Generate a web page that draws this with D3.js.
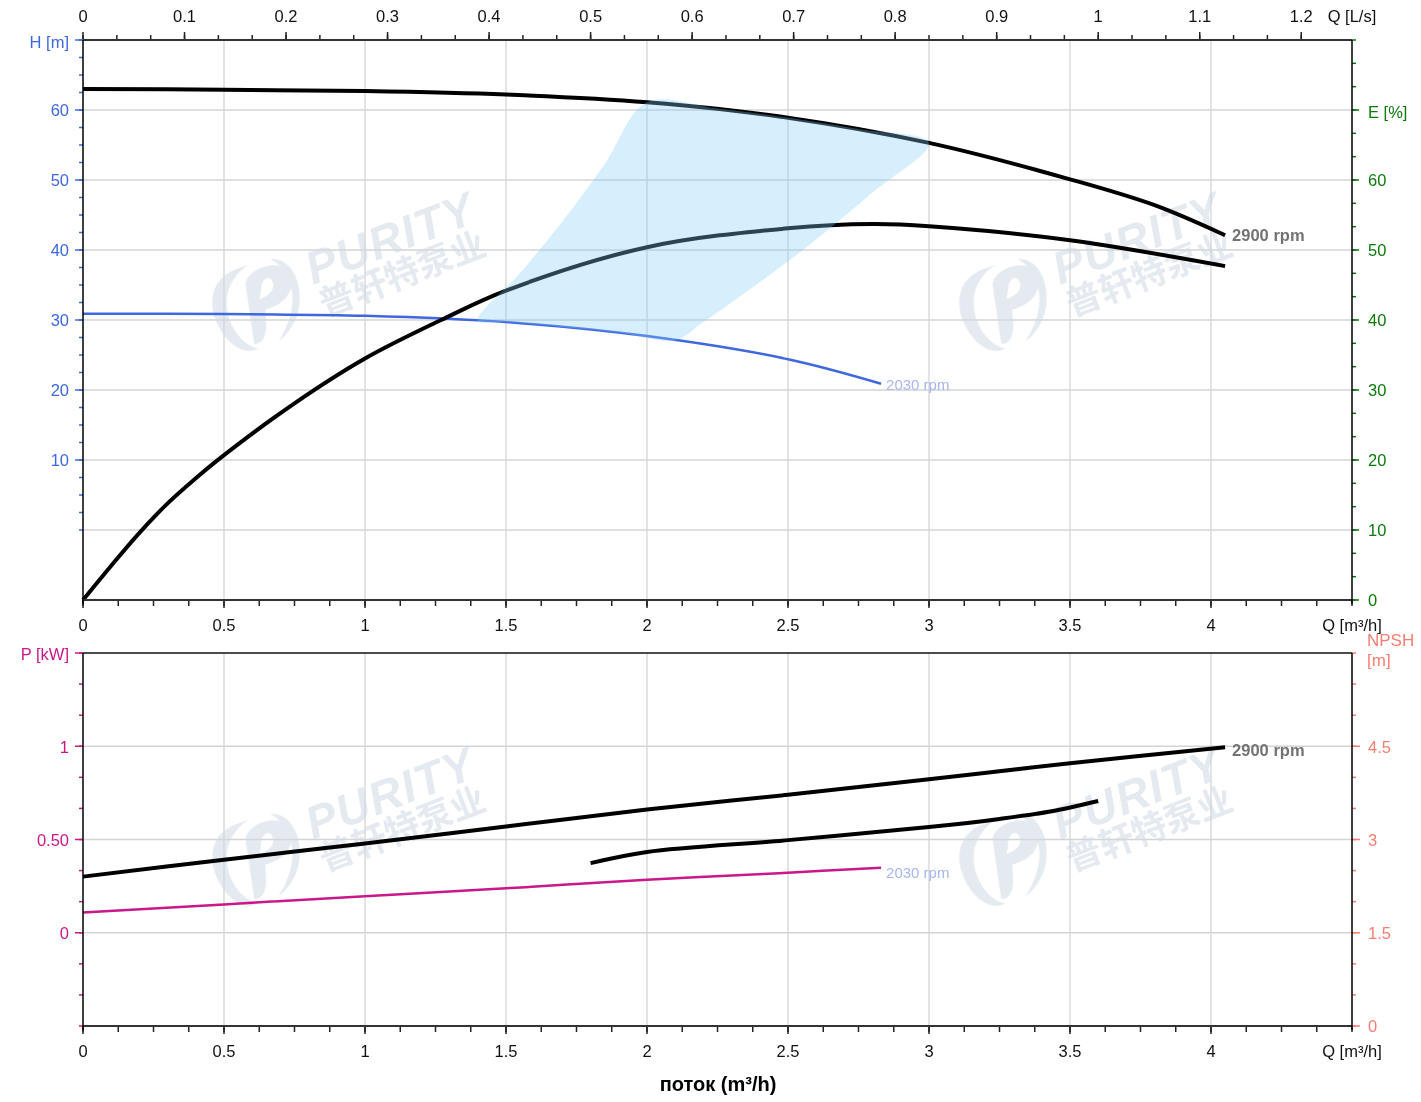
<!DOCTYPE html>
<html><head><meta charset="utf-8">
<script src="https://cdn.jsdelivr.net/npm/d3@7"></script>
<style>body{margin:0;background:#fff}svg{display:block;font-family:"Liberation Sans",Arial,sans-serif}</style>
</head><body>
<script>
// ---------- data ----------
const head2900Q = [0, 0.5, 1, 1.5, 2, 2.5, 3, 3.5, 3.8, 4.05];
const head2900H = [63.0, 62.9, 62.7, 62.2, 61.1, 58.9, 55.3, 50.1, 46.4, 42.1];
const head2030Q = [0, 0.5, 1, 1.5, 2, 2.5, 2.83];
const head2030H = [30.9, 30.85, 30.6, 29.7, 27.7, 24.4, 20.9];
const eff2900Q = [0, 0.1, 0.2, 0.3, 0.4, 0.5, 0.75, 1, 1.27, 1.5, 2, 2.5, 2.8, 3, 3.5, 4.05];
const eff2900E = [0, 4.9, 9.6, 13.8, 17.4, 20.7, 28.1, 34.5, 40.0, 44.2, 50.4, 53.1, 53.7, 53.4, 51.4, 47.7];
const pow2900Q = [0, 0.5, 1, 1.5, 2, 2.5, 3, 3.5, 4.05];
const pow2900P = [0.301, 0.392, 0.478, 0.570, 0.661, 0.740, 0.823, 0.909, 0.995];
const pow2030Q = [0, 0.5, 1, 1.5, 2, 2.5, 2.83];
const pow2030P = [0.108, 0.152, 0.196, 0.238, 0.284, 0.322, 0.349];
const npshQ = [1.8, 2.0, 2.5, 3.0, 3.25, 3.43, 3.6];
const npshM = [2.62, 2.80, 2.99, 3.20, 3.33, 3.45, 3.62];
// best-efficiency zone (outline, Q m3/h / H m)
const zoneQ = [2.0, 2.25, 2.5, 2.75, 3.0, 2.8, 2.6, 2.4, 2.2, 2.1, 1.9, 1.7, 1.5, 1.4, 1.55, 1.7, 1.85, 2.0];
const zoneH = [61.1, 60.2, 58.9, 57.3, 55.3, 48.2, 41.5, 35.4, 29.7, 27.1, 28.2, 29.0, 29.7, 29.9, 36.7, 44.1, 52.3, 61.1];
// ticks / labels
const qTicks = [0, 0.5, 1, 1.5, 2, 2.5, 3, 3.5, 4];
const lsTicks = [0, 0.1, 0.2, 0.3, 0.4, 0.5, 0.6, 0.7, 0.8, 0.9, 1, 1.1, 1.2];
const hTicks = [10, 20, 30, 40, 50, 60];
const eTicks = [0, 10, 20, 30, 40, 50, 60];
const pTicks = [0, 0.5, 1];
const pLabels = ["0", "0.50", "1"];
const nTicks = [0, 1.5, 3, 4.5];
const speedLabels = ["2900 rpm", "2030 rpm"];

// ---------- scales ----------
const W = 1421, H = 1102;
const L = 83, R = 1352;
const x = d3.scaleLinear([0, 4.5], [L, R]);
const xLs = d3.scaleLinear([0, 1.25], [L, R]);
const yH = d3.scaleLinear([-10, 70], [600, 40]);
const yE = d3.scaleLinear([0, 80], [600, 40]);
const yP = d3.scaleLinear([-0.5, 1.5], [1026, 653]);
const yN = d3.scaleLinear([0, 6], [1026, 653]);

const svg = d3.select("body").append("svg").attr("width", W).attr("height", H);
const FS = 16.5;
const DY = 2;
const gridC = "#d4d4d4";
const cBlue = "#3f68de", cGreen = "#0b7a0b", cMag = "#c8188a", cSal = "#f47e72";

// ---------- grid ----------
const grid = svg.append("g").attr("stroke", gridC).attr("stroke-width", 1.3);
qTicks.slice(1).forEach(q => {
  grid.append("line").attr("x1", x(q)).attr("x2", x(q)).attr("y1", 40).attr("y2", 600);
  grid.append("line").attr("x1", x(q)).attr("x2", x(q)).attr("y1", 653).attr("y2", 1026);
});
d3.range(10, 71, 10).forEach(e => grid.append("line").attr("x1", L).attr("x2", R).attr("y1", yE(e)).attr("y2", yE(e)));
pTicks.forEach(p => grid.append("line").attr("x1", L).attr("x2", R).attr("y1", yP(p)).attr("y2", yP(p)));

// ---------- watermarks ----------
function watermark(cx, cy) {
  const g = svg.append("g").attr("transform", `translate(${cx},${cy})`).attr("opacity", 0.55);
  const c = "#cfd9e6";
  const lg = g.append("g").attr("transform", "rotate(-20)");
  lg.append("path").attr("d", "M-8,-40 C-40,-38 -48,-5 -38,22 C-32,38 -20,44 -12,42 C-30,30 -34,0 -22,-20 C-14,-32 -2,-38 8,-40 Z").attr("fill", c);
  lg.append("path").attr("d", "M-14,36 L-2,-22 C2,-34 30,-38 40,-24 C48,-10 38,8 14,8 L8,8 L4,22 C0,34 -8,40 -14,36 Z M10,-10 L6,-4 C20,-4 26,-10 24,-18 C22,-24 14,-22 10,-10 Z").attr("fill", c).attr("fill-rule", "evenodd");
  lg.append("path").attr("d", "M30,-38 C48,-34 52,-10 44,10 C38,26 24,38 10,42 C28,28 40,10 40,-8 C40,-22 36,-32 30,-38 Z").attr("fill", c);
  g.append("text").attr("transform", "translate(58,-20) rotate(-21)")
    .attr("font-size", 46).attr("font-weight", "bold").attr("font-style", "italic")
    .attr("letter-spacing", 1.5).attr("fill", c).text("PURITY");
  g.append("text").attr("transform", "translate(70,12) rotate(-21)")
    .attr("font-family", "Noto Sans CJK SC").attr("font-size", 35).attr("font-weight", "bold")
    .attr("fill", c).text("普轩特泵业");
}
watermark(255, 305);
watermark(1002, 305);
watermark(255, 860);
watermark(1002, 860);

// ---------- curves ----------
const lineXY = (qs, vs, ys) => d3.line().curve(d3.curveCatmullRom.alpha(0.5))(qs.map((q, i) => [x(q), ys(vs[i])]));
svg.append("path").attr("d", lineXY(head2030Q, head2030H, yH)).attr("fill", "none").attr("stroke", cBlue).attr("stroke-width", 2.5);
svg.append("path").attr("d", lineXY(head2900Q, head2900H, yH)).attr("fill", "none").attr("stroke", "#000").attr("stroke-width", 4);
svg.append("path").attr("d", lineXY(eff2900Q, eff2900E, yE)).attr("fill", "none").attr("stroke", "#000").attr("stroke-width", 4);
const zonePts = zoneQ.map((q, i) => [x(q), yH(zoneH[i])]);
svg.append("path").attr("d", d3.line().curve(d3.curveCatmullRomClosed)(zonePts.slice(0, -1)))
  .attr("fill", "rgba(135,206,250,0.33)").attr("stroke", "none");

svg.append("path").attr("d", lineXY(pow2030Q, pow2030P, yP)).attr("fill", "none").attr("stroke", cMag).attr("stroke-width", 2.5);
svg.append("path").attr("d", lineXY(pow2900Q, pow2900P, yP)).attr("fill", "none").attr("stroke", "#000").attr("stroke-width", 4);
svg.append("path").attr("d", lineXY(npshQ, npshM, yN)).attr("fill", "none").attr("stroke", "#000").attr("stroke-width", 4);

// speed labels
const lab = (t, px, py, bold, col, fs) => svg.append("text").attr("x", px).attr("y", py + DY).attr("font-size", fs)
  .attr("font-weight", bold ? "bold" : "normal").attr("fill", col).attr("dominant-baseline", "middle").text(t);
lab(speedLabels[0], x(head2900Q[head2900Q.length - 1]) + 7, yH(head2900H[head2900H.length - 1]) - 1, true, "#737373", 16.5);
lab(speedLabels[1], x(head2030Q[head2030Q.length - 1]) + 5, yH(head2030H[head2030H.length - 1]), false, "#a7b6ee", 15);
lab(speedLabels[0], x(pow2900Q[pow2900Q.length - 1]) + 7, yP(pow2900P[pow2900P.length - 1]) + 2, true, "#737373", 16.5);
lab(speedLabels[1], x(pow2030Q[pow2030Q.length - 1]) + 5, yP(pow2030P[pow2030P.length - 1]) + 4, false, "#a7b6ee", 15);

// ---------- axes ----------
function ticksH(y0, scale, vals, len, dir, col) {
  const g = svg.append("g").attr("stroke", col).attr("stroke-width", 1.5);
  vals.forEach(v => g.append("line").attr("x1", scale(v)).attr("x2", scale(v)).attr("y1", y0).attr("y2", y0 + dir * len));
}
function ticksV(x0, scale, vals, len, dir, col) {
  const g = svg.append("g").attr("stroke", col).attr("stroke-width", 1.5);
  vals.forEach(v => g.append("line").attr("y1", scale(v)).attr("y2", scale(v)).attr("x1", x0).attr("x2", x0 + dir * len));
}
const txt = (t, px, py, anchor, col, fs, weight) => svg.append("text").attr("x", px).attr("y", py + DY).attr("text-anchor", anchor)
  .attr("dominant-baseline", "middle").attr("font-size", fs || FS).attr("font-weight", weight || "normal").attr("fill", col).text(t);

// top L/s axis
ticksH(40, xLs, d3.range(0, 37).map(i => i / 30), 5, -1, "#222");
ticksH(40, xLs, lsTicks, 8, -1, "#222");
lsTicks.forEach(v => txt(d3.format("~g")(v), xLs(v), 16, "middle", "#111"));
txt("Q [L/s]", R, 16, "middle", "#111");

// x axes (m3/h)
[600, 1026].forEach(y0 => {
  ticksH(y0, x, d3.range(0, 37).map(i => i / 8), 6, 1, "#222");
  ticksH(y0, x, qTicks, 8, 1, "#222");
  qTicks.forEach(v => txt(d3.format("~g")(v), x(v), y0 + 25, "middle", "#111"));
  txt("Q [m³/h]", R, y0 + 25, "middle", "#111");
});

// H axis (left, top)
ticksV(L, yH, d3.range(0, 29).map(i => i * 2.5), 4, -1, cBlue);
ticksV(L, yH, d3.range(10, 71, 10), 8, -1, cBlue);
hTicks.forEach(v => txt(v, 69, yH(v), "end", cBlue));
txt("H [m]", 69, 42, "end", cBlue);

// E axis (right, top)
ticksV(R, yE, d3.range(0, 25).map(i => i * 10 / 3), 4, 1, cGreen);
ticksV(R, yE, d3.range(0, 71, 10), 7, 1, cGreen);
eTicks.forEach(v => txt(v, 1368, yE(v), "start", cGreen));
txt("E [%]", 1368, yE(70) + 2, "start", cGreen);

// P axis (left, bottom)
ticksV(L, yP, d3.range(0, 13).map(i => -0.5 + i / 6), 4, -1, cMag);
ticksV(L, yP, [0, 0.5, 1, 1.5], 8, -1, cMag);
pTicks.forEach((v, i) => txt(pLabels[i], 69, yP(v), "end", cMag));
txt("P [kW]", 69, 654, "end", cMag);

// NPSH axis (right, bottom)
ticksV(R, yN, d3.range(0, 13).map(i => i * 0.5), 4, 1, cSal);
ticksV(R, yN, nTicks, 8, 1, cSal);
nTicks.forEach(v => txt(v, 1368, yN(v), "start", cSal));
txt("NPSH", 1367, 640, "start", cSal, 17);
txt("[m]", 1367, 660, "start", cSal, 17);

// frames
const fr = svg.append("g").attr("fill", "none");
fr.append("line").attr("x1", L).attr("x2", R).attr("y1", 40).attr("y2", 40).attr("stroke", "#333").attr("stroke-width", 2);
fr.append("line").attr("x1", L).attr("x2", R).attr("y1", 600).attr("y2", 600).attr("stroke", "#333").attr("stroke-width", 2);
fr.append("line").attr("x1", L).attr("x2", R).attr("y1", 653).attr("y2", 653).attr("stroke", "#111").attr("stroke-width", 1.5);
fr.append("line").attr("x1", L).attr("x2", R).attr("y1", 1026).attr("y2", 1026).attr("stroke", "#333").attr("stroke-width", 2);
[[40, 600], [653, 1026]].forEach(([a, b]) => {
  fr.append("line").attr("x1", L).attr("x2", L).attr("y1", a).attr("y2", b + 4).attr("stroke", "#000").attr("stroke-width", 1.5);
  fr.append("line").attr("x1", R).attr("x2", R).attr("y1", a).attr("y2", b + 4).attr("stroke", "#000").attr("stroke-width", 1.5);
});

// title
txt("поток (m³/h)", 718, 1084, "middle", "#000", 20, "bold");
</script>
</body></html>
